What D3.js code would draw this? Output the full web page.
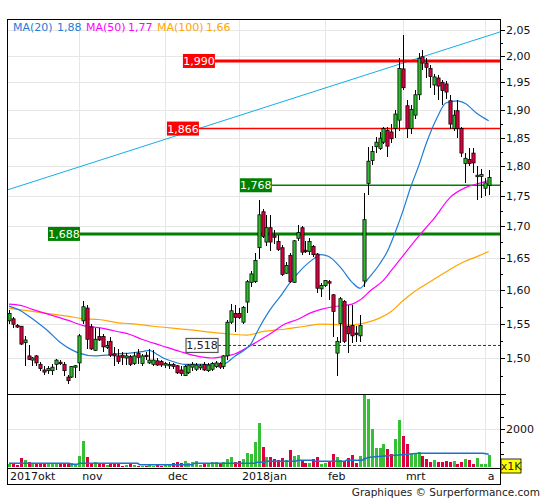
<!DOCTYPE html>
<html><head><meta charset="utf-8">
<script src="https://cdn.jsdelivr.net/npm/d3@7"></script>
<style>body{margin:0;background:#fff}svg{display:block;font-family:"DejaVu Sans",Verdana,sans-serif}</style>
</head><body><svg id="c" width="545" height="500"></svg>
<script>
// ---- data (trading-day index 0 = 6 Oct 2017) ----
const openP  = [1.554,1.557,1.547,1.546,1.522,1.503,1.497,1.503,1.491,1.483,1.482,1.482,1.491,1.494,1.491,1.473,1.473,1.487,1.493,1.554,1.573,1.545,1.511,1.531,1.531,1.515,1.524,1.506,1.503,1.504,1.500,1.502,1.492,1.507,1.492,1.504,1.493,1.491,1.496,1.495,1.490,1.489,1.491,1.489,1.483,1.475,1.479,1.487,1.484,1.486,1.491,1.482,1.484,1.488,1.492,1.488,1.503,1.552,1.565,1.565,1.552,1.582,1.612,1.613,1.666,1.724,1.675,1.698,1.685,1.676,1.666,1.626,1.654,1.612,1.681,1.698,1.662,1.660,1.668,1.656,1.602,1.607,1.613,1.593,1.507,1.550,1.583,1.546,1.547,1.536,1.532,1.614,1.771,1.810,1.834,1.831,1.842,1.863,1.860,1.866,1.881,1.975,1.907,1.866,1.890,1.927,1.998,1.986,1.976,1.945,1.958,1.950,1.947,1.916,1.866,1.898,1.866,1.805,1.812,1.823,1.783,1.783,1.763,1.768];
const highP  = [1.570,1.560,1.550,1.547,1.532,1.518,1.502,1.504,1.494,1.488,1.489,1.492,1.499,1.497,1.494,1.476,1.489,1.490,1.534,1.584,1.578,1.550,1.543,1.543,1.534,1.524,1.531,1.516,1.513,1.508,1.507,1.504,1.509,1.513,1.506,1.508,1.513,1.511,1.500,1.497,1.495,1.494,1.493,1.490,1.489,1.490,1.491,1.495,1.493,1.492,1.494,1.493,1.495,1.496,1.495,1.504,1.555,1.579,1.578,1.573,1.576,1.615,1.630,1.658,1.743,1.729,1.719,1.719,1.694,1.687,1.671,1.643,1.658,1.678,1.703,1.701,1.676,1.682,1.671,1.658,1.611,1.616,1.615,1.594,1.531,1.590,1.585,1.578,1.578,1.547,1.562,1.755,1.834,1.836,1.851,1.860,1.869,1.869,1.875,1.900,1.995,2.040,1.918,1.909,1.936,2.005,2.011,1.996,1.982,1.966,1.963,1.955,1.952,1.927,1.900,1.918,1.869,1.823,1.832,1.832,1.800,1.795,1.780,1.794];
const lowP   = [1.550,1.544,1.543,1.518,1.489,1.497,1.489,1.488,1.481,1.476,1.478,1.476,1.483,1.490,1.474,1.464,1.472,1.472,1.481,1.550,1.513,1.511,1.510,1.524,1.509,1.513,1.502,1.489,1.492,1.490,1.490,1.488,1.490,1.492,1.489,1.497,1.491,1.488,1.489,1.487,1.486,1.484,1.484,1.477,1.475,1.474,1.477,1.482,1.481,1.483,1.482,1.480,1.482,1.486,1.484,1.485,1.497,1.550,1.538,1.556,1.550,1.566,1.605,1.611,1.648,1.682,1.668,1.660,1.672,1.660,1.622,1.625,1.611,1.611,1.676,1.655,1.658,1.655,1.651,1.595,1.590,1.605,1.585,1.531,1.474,1.521,1.521,1.507,1.521,1.523,1.523,1.605,1.752,1.803,1.823,1.829,1.839,1.817,1.840,1.849,1.862,1.935,1.849,1.857,1.883,1.918,1.973,1.958,1.940,1.927,1.918,1.909,1.920,1.866,1.861,1.849,1.817,1.772,1.800,1.789,1.744,1.747,1.750,1.752];
const closeP = [1.565,1.549,1.546,1.520,1.526,1.498,1.500,1.493,1.485,1.480,1.485,1.487,1.497,1.493,1.482,1.468,1.488,1.489,1.532,1.575,1.527,1.513,1.527,1.526,1.516,1.518,1.504,1.503,1.495,1.501,1.503,1.491,1.503,1.501,1.503,1.502,1.497,1.497,1.490,1.490,1.492,1.491,1.488,1.479,1.478,1.488,1.490,1.491,1.490,1.489,1.483,1.490,1.492,1.493,1.487,1.503,1.552,1.569,1.559,1.559,1.574,1.613,1.625,1.646,1.719,1.684,1.698,1.675,1.683,1.663,1.624,1.638,1.613,1.677,1.690,1.659,1.660,1.676,1.655,1.603,1.607,1.615,1.611,1.568,1.524,1.587,1.524,1.535,1.532,1.534,1.547,1.711,1.809,1.826,1.842,1.849,1.866,1.835,1.848,1.892,1.976,1.940,1.866,1.900,1.927,1.995,1.986,1.978,1.961,1.960,1.943,1.935,1.932,1.874,1.890,1.866,1.823,1.814,1.805,1.806,1.785,1.786,1.772,1.781];
const volume = [160,160,106,477,371,265,177,177,177,177,177,177,177,177,177,177,212,124,583,1379,530,177,265,177,177,106,177,177,177,53,106,177,106,53,53,53,106,53,106,53,124,124,194,265,194,318,194,265,318,124,177,194,265,265,194,265,424,530,265,318,424,743,690,1326,2334,1061,530,530,424,371,477,371,902,583,637,318,212,212,424,530,159,212,265,690,530,371,318,477,637,212,583,3900,3607,2016,1008,1008,1220,955,690,1485,2493,1645,1220,690,743,796,583,424,265,371,265,265,318,265,318,159,265,424,371,159,477,159,159,637];
// moving averages: [index, value]
const ma20 = [[0,1.576],[3,1.569],[6,1.557],[10,1.539],[13,1.523],[16,1.512],[18,1.507],[22,1.503],[25,1.504],[28,1.506],[31,1.507],[34,1.509],[36,1.511],[38,1.505],[40,1.499],[42,1.495],[45,1.491],[50,1.491],[54,1.489],[56,1.494],[58,1.503],[60,1.510],[62,1.520],[64,1.542],[67,1.571],[70,1.594],[72,1.611],[75,1.632],[78,1.648],[80,1.655],[82,1.652],[85,1.635],[88,1.612],[90,1.603],[92,1.617],[95,1.640],[97,1.660],[99,1.690],[101,1.725],[103,1.765],[105,1.800],[107,1.840],[110,1.889],[112,1.912],[115,1.916],[117,1.911],[120,1.893],[123,1.880]];
const ma50 = [[0,1.579],[3,1.577],[6,1.571],[10,1.564],[15,1.555],[19,1.547],[23,1.544],[28,1.538],[31,1.534],[34,1.527],[39,1.518],[44,1.509],[48,1.503],[52,1.500],[55,1.502],[58,1.506],[62,1.518],[67,1.535],[71,1.550],[74,1.556],[77,1.565],[80,1.571],[83,1.575],[86,1.577],[88,1.579],[90,1.585],[93,1.601],[96,1.615],[98,1.630],[101,1.653],[105,1.684],[109,1.713],[113,1.747],[117,1.764],[121,1.772],[123,1.776]];
const ma100 = [[0,1.573],[6,1.568],[11,1.564],[15,1.561],[19,1.557],[23,1.556],[28,1.551],[31,1.550],[37,1.546],[46,1.541],[54,1.536],[61,1.533],[65,1.538],[71,1.542],[76,1.546],[80,1.549],[88,1.548],[92,1.552],[95,1.558],[98,1.568],[101,1.584],[104,1.598],[108,1.613],[112,1.628],[116,1.642],[120,1.652],[123,1.660]];
const volAvg = [[0,194],[15.5,194],[16,141],[17.5,141],[18,194],[33,194],[33.5,124],[47,124],[47.5,194],[63,194],[63.5,248],[65.5,248],[66,300],[73.5,300],[74,354],[78,354],[78.5,300],[86,300],[86.5,354],[90.5,354],[91,424],[92.5,513],[95.5,566],[100,637],[105,725],[121.5,725],[123,672]];
const trendLine = [[-0.5,1.760],[126,2.046]];
const levels = [1.990,1.866,1.768,1.688,1.518];
const levelStart = [52.8,48.7,67.4,18.2,53.6];
const levelStyle = ["redBold","red","green","greenBold","dash"];
const monthLabels = ["2017okt","nov","dec","2018jan","feb","mrt","a"];
const monthStart = [-4,18,40,59,81,101,122];
const priceTicks = [1.50,1.55,1.60,1.65,1.70,1.75,1.80,1.85,1.90,1.95,2.00,2.05];
const legendNames = ["MA(20)","MA(50)","MA(100)"];
const legendValues = ["1,88","1,77","1,66"];

// ---- layout ----
const PL=7, PR=500, PT=19, PB=394, VT=395, VB=468, FB=484;
const svg = d3.select("#c");
const x = d3.scaleLinear().domain([0,123]).range([9, 9+3.9*123]);
const y = d3.scaleLog().domain([1.50,2.05]).range([358,29.75]);
const yv = d3.scaleLinear().domain([0,2000]).range([467,429.3]);
const fmt = v => d3.format(".2f")(v).replace(".",",");
const GREEN="#2dbb2d", RED="#dc0040", GRID="#e6e6e6";
const C20="#1f7cd6", C50="#ff00ff", C100="#ffa500";

const defs = svg.append("defs");
defs.append("clipPath").attr("id","cp").append("rect").attr("x",PL).attr("y",PT).attr("width",PR-PL).attr("height",PB-PT);
defs.append("clipPath").attr("id","cv").append("rect").attr("x",PL).attr("y",VT).attr("width",PR-PL).attr("height",VB-VT);

// grid
const g = svg.append("g");
priceTicks.forEach(t=>{
  g.append("line").attr("x1",PL).attr("x2",PR).attr("y1",Math.round(y(t))+0.5).attr("y2",Math.round(y(t))+0.5).attr("stroke",GRID);
});
monthStart.forEach(m=>{ if(m<0) return;
  const xx = Math.round(x(m))+0.5;
  g.append("line").attr("x1",xx).attr("x2",xx).attr("y1",PT).attr("y2",PB).attr("stroke",GRID);
  g.append("line").attr("x1",xx).attr("x2",xx).attr("y1",VT).attr("y2",VB).attr("stroke",GRID);
});
g.append("line").attr("x1",PL).attr("x2",PR).attr("y1",Math.round(yv(2000))+0.5).attr("y2",Math.round(yv(2000))+0.5).attr("stroke",GRID);

// price panel
const pp = svg.append("g").attr("clip-path","url(#cp)");
pp.append("path").datum(trendLine).attr("fill","none").attr("stroke","#12aeea").attr("stroke-width",1)
  .attr("d", d3.line().x(d=>x(d[0])).y(d=>y(d[1])));
levels.forEach((v,k)=>{
  const st = levelStyle[k];
  const yy = y(v);
  const x0 = x(levelStart[k]);
  const col = st.startsWith("red") ? "#ff0000" : st.startsWith("green") ? "#008000" : "#333";
  const ln = pp.append("line").attr("x1",x0).attr("x2",PR).attr("y1",yy).attr("y2",yy).attr("stroke",col)
     .attr("stroke-width", st.endsWith("Bold") ? 3 : (st==="dash"?1:1.4));
  if(st==="dash") ln.attr("stroke-dasharray","3,2");
});
const lineGen = d3.line().x(d=>x(d[0])).y(d=>y(d[1])).curve(d3.curveMonotoneX);
pp.append("path").datum(ma100).attr("fill","none").attr("stroke",C100).attr("stroke-width",1.2).attr("d",lineGen);
pp.append("path").datum(ma50).attr("fill","none").attr("stroke",C50).attr("stroke-width",1.2).attr("d",lineGen);
pp.append("path").datum(ma20).attr("fill","none").attr("stroke",C20).attr("stroke-width",1.2).attr("d",lineGen);
// candles
const candles = openP.map((o,i)=>({i,o,h:highP[i],l:lowP[i],c:closeP[i]}));
const cg = pp.append("g");
candles.forEach(d=>{
  const cx = Math.round(x(d.i))+0.5;
  cg.append("line").attr("x1",cx).attr("x2",cx).attr("y1",y(d.h)).attr("y2",y(d.l)).attr("stroke","#000").attr("stroke-width",1).attr("shape-rendering","crispEdges");
  const top = y(Math.max(d.o,d.c)), bot = y(Math.min(d.o,d.c));
  const hh = Math.max(bot-top,1.5);
  cg.append("rect").attr("x",cx-1.6).attr("y",top).attr("width",3.2).attr("height",hh)
    .attr("fill", d.c>=d.o?GREEN:RED).attr("stroke","#000").attr("stroke-width",0.75);
});
// level labels
levels.forEach((v,k)=>{
  const st = levelStyle[k];
  const yy = y(v), x1 = x(levelStart[k]);
  const bg = st.startsWith("red") ? "#ff0000" : st.startsWith("green") ? "#008000" : "#fff";
  const tc = st==="dash" ? "#222" : "#fff";
  const w = 32;
  svg.append("rect").attr("x",x1-w).attr("y",yy-7).attr("width",w).attr("height",14).attr("fill",bg)
    .attr("stroke", st==="dash" ? "#555" : "none").attr("stroke-width",1.2);
  svg.append("text").attr("x",x1-w/2).attr("y",yy+4).attr("text-anchor","middle").attr("font-size",11)
    .attr("fill",tc).text(d3.format(".3f")(v).replace(".",","));
});

// volume panel
const vp = svg.append("g").attr("clip-path","url(#cv)").attr("shape-rendering","crispEdges");
volume.forEach((v,i)=>{
  const x0 = Math.round(x(i))-1;
  const up = closeP[i]>=openP[i];
  vp.append("rect").attr("x",x0).attr("y",yv(v)).attr("width",3).attr("height",yv(0)-yv(v)).attr("fill",up?"#35c035":"#dd0040");
});
svg.append("g").attr("clip-path","url(#cv)").append("path").datum(volAvg).attr("fill","none").attr("stroke","#1a72cc").attr("stroke-width",1.5)
  .attr("d", d3.line().x(d=>x(d[0])).y(d=>yv(d[1])));

// frames
const fr = svg.append("g").attr("fill","none").attr("stroke","#000").attr("shape-rendering","crispEdges");
fr.append("line").attr("x1",PL).attr("x2",PR+1).attr("y1",PT+0.5).attr("y2",PT+0.5).attr("stroke-width",1.5);
fr.append("line").attr("x1",PL).attr("x2",PR+6).attr("y1",PB+0.5).attr("y2",PB+0.5).attr("stroke-width",1.5);
fr.append("line").attr("x1",PL).attr("x2",PR).attr("y1",VB+0.5).attr("y2",VB+0.5);
fr.append("line").attr("x1",PL).attr("x2",PR+1).attr("y1",FB+0.5).attr("y2",FB+0.5).attr("stroke-width",1.5);
fr.append("line").attr("x1",PR+0.5).attr("x2",PR+0.5).attr("y1",PT).attr("y2",FB+1);
fr.append("line").attr("x1",PL+0.5).attr("x2",PL+0.5).attr("y1",PT).attr("y2",FB+1).attr("stroke-width",1.5);

// price axis
const ax = svg.append("g").attr("shape-rendering","crispEdges");
priceTicks.forEach(t=>{
  const yy = Math.round(y(t))+0.5;
  ax.append("line").attr("x1",PR).attr("x2",PR+5).attr("y1",yy).attr("y2",yy).attr("stroke","#000");
  svg.append("text").attr("x",PR+6).attr("y",y(t)+4).attr("font-size",11).attr("fill","#111").text(fmt(t));
  const m = t+0.025;
  if(y(m)>PT){ const ym=Math.round(y(m))+0.5; ax.append("line").attr("x1",PR).attr("x2",PR+3).attr("y1",ym).attr("y2",ym).attr("stroke","#000"); }
});
{ const ym=Math.round(y(1.475))+0.5; ax.append("line").attr("x1",PR).attr("x2",PR+3).attr("y1",ym).attr("y2",ym).attr("stroke","#000"); }
// volume axis
[2000/3,4000/3,2000,8000/3,10000/3].forEach(t=>{
  const yy = Math.round(yv(t))+0.5;
  if(yy<VT) return;
  ax.append("line").attr("x1",PR).attr("x2",PR+(t===2000?5:4)).attr("y1",yy).attr("y2",yy).attr("stroke","#000");
});
svg.append("text").attr("x",PR+6).attr("y",yv(2000)+4).attr("font-size",11).attr("fill","#111").text("2000");
svg.append("rect").attr("x",PR+1).attr("y",459).attr("width",20).attr("height",14).attr("fill","#ffff00").attr("stroke","#000").attr("stroke-width",0.8);
svg.append("text").attr("x",PR+11).attr("y",470).attr("text-anchor","middle").attr("font-size",11).attr("fill","#222").text("x1K");

// month labels
monthLabels.forEach((lab,k)=>{
  const xx = Math.max(x(monthStart[k]), PL) + 3;
  svg.append("text").attr("x",xx).attr("y",480).attr("font-size",11).attr("fill","#111").text(lab);
});

// legend
const lgX = [13,57,86,128,157,206];
legendNames.forEach((n,k)=>{
  const col=[C20,C50,C100][k];
  svg.append("text").attr("x",lgX[2*k]).attr("y",31).attr("font-size",11).attr("fill",col).text(n);
  svg.append("text").attr("x",lgX[2*k+1]).attr("y",31).attr("font-size",11).attr("fill",col).text(legendValues[k]);
});
svg.append("text").attr("x",540).attr("y",496).attr("text-anchor","end").attr("font-size",10.5).attr("fill","#222").text("Graphiques © Surperformance.com");
</script></body></html>
